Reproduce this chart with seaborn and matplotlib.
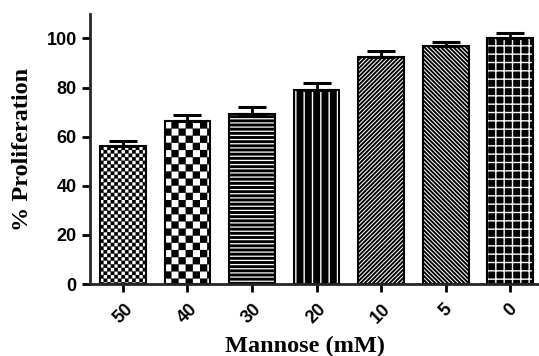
import warnings
import numpy as np
import pandas as pd
import matplotlib
matplotlib.use("Agg")
import matplotlib.pyplot as plt
import matplotlib.hatch as mhatch
from matplotlib.path import Path
import seaborn as sns
warnings.filterwarnings("ignore")

# ── Datos ──────────────────────────────────────────────────────────────────────
mannose = ["50", "40", "30", "20", "10", "5", "0"]
proliferation = [56.3, 66.2, 69.3, 78.9, 92.6, 97.0, 100.0]
sem = [1.9, 2.6, 2.7, 3.0, 2.2, 1.6, 2.1]

# ── Patrón de tablero de ajedrez (hatch "c") ───────────────────────────────────
class Checker(mhatch.HatchPatternBase):
    def __init__(self, hatch, density):
        self.n = hatch.count("c") * 14
        self.num_vertices = (self.n * self.n // 2) * 5

    def set_vertices_and_codes(self, vertices, codes):
        s = 1.0 / self.n
        sq = np.array([[0, 0], [s, 0], [s, s], [0, s], [0, 0]], float)
        k = 0
        for i in range(self.n):
            for j in range(self.n):
                if (i + j) % 2 == 0:
                    vertices[k:k + 5] = sq + [i * s, j * s]
                    codes[k] = Path.MOVETO
                    codes[k + 1:k + 4] = Path.LINETO
                    codes[k + 4] = Path.CLOSEPOLY
                    k += 5


mhatch._hatch_types.append(Checker)

# estilo de cada barra: (hatch, fondo, color del hatch, grosor del hatch)
estilos = [
    ("cc", "white", "black", 0.15),
    ("c", "white", "black", 0.15),
    ("----", "black", "white", 0.9),
    ("||", "black", "white", 1.0),
    ("/" * 8, "black", "white", 0.75),
    ("\\" * 8, "black", "white", 0.75),
    ("++", "black", "white", 1.0),
]

sns.set_style("ticks")
plt.rcParams["font.family"] = ["Liberation Sans", "DejaVu Sans"]
plt.rcParams["text.color"] = "black"
plt.rcParams["axes.labelcolor"] = "black"
plt.rcParams["xtick.color"] = "black"
plt.rcParams["ytick.color"] = "black"

df = pd.DataFrame({"mannose": mannose, "prolif": proliferation})

fig = plt.figure(figsize=(5.39, 3.56), dpi=100)
ax = fig.add_axes([0.167, 0.202, 0.831, 0.759])

sns.barplot(data=df, x="mannose", y="prolif", order=mannose, color="white",
            width=0.71, edgecolor="black", linewidth=1.5, ax=ax)

for p, (h, fc, hc, lw) in zip(ax.patches, estilos):
    p.set_facecolor(fc)
    p.set_edgecolor("black")
    p.set_hatch(h)
    p._hatch_color = matplotlib.colors.to_rgba(hc)
    try:
        p.set_hatch_linewidth(lw)
    except AttributeError:
        p._hatch_linewidth = lw

# barras de error solo hacia arriba
x = np.arange(len(mannose))
ax.errorbar(x, proliferation, yerr=[np.zeros(len(sem)), sem], fmt="none",
            ecolor="black", elinewidth=2.0, capsize=10, capthick=2.2, zorder=1)

ax.set_ylim(0, 110)
ax.set_xlim(-0.51, 6.43)
ax.set_yticks([0, 20, 40, 60, 80, 100])

sns.despine(ax=ax)
for s in ["left", "bottom"]:
    ax.spines[s].set_linewidth(2.0)
ax.tick_params(axis="both", width=2.0, length=6, labelsize=13)
ax.tick_params(axis="x", pad=6)
for lab in ax.get_yticklabels():
    lab.set_fontweight("bold")
for lab in ax.get_xticklabels():
    lab.set_fontweight("bold")
    lab.set_rotation(45)
    lab.set_ha("center")

ax.set_xlabel("Mannose (mM)", family=["Liberation Serif"], fontweight="bold",
              fontsize=17.5)
ax.xaxis.set_label_coords(0.48, -0.19)
ax.set_ylabel("% Proliferation", family=["Liberation Serif"], fontweight="bold",
              fontsize=17.5, labelpad=10)

plt.savefig("out.png", dpi=100)
